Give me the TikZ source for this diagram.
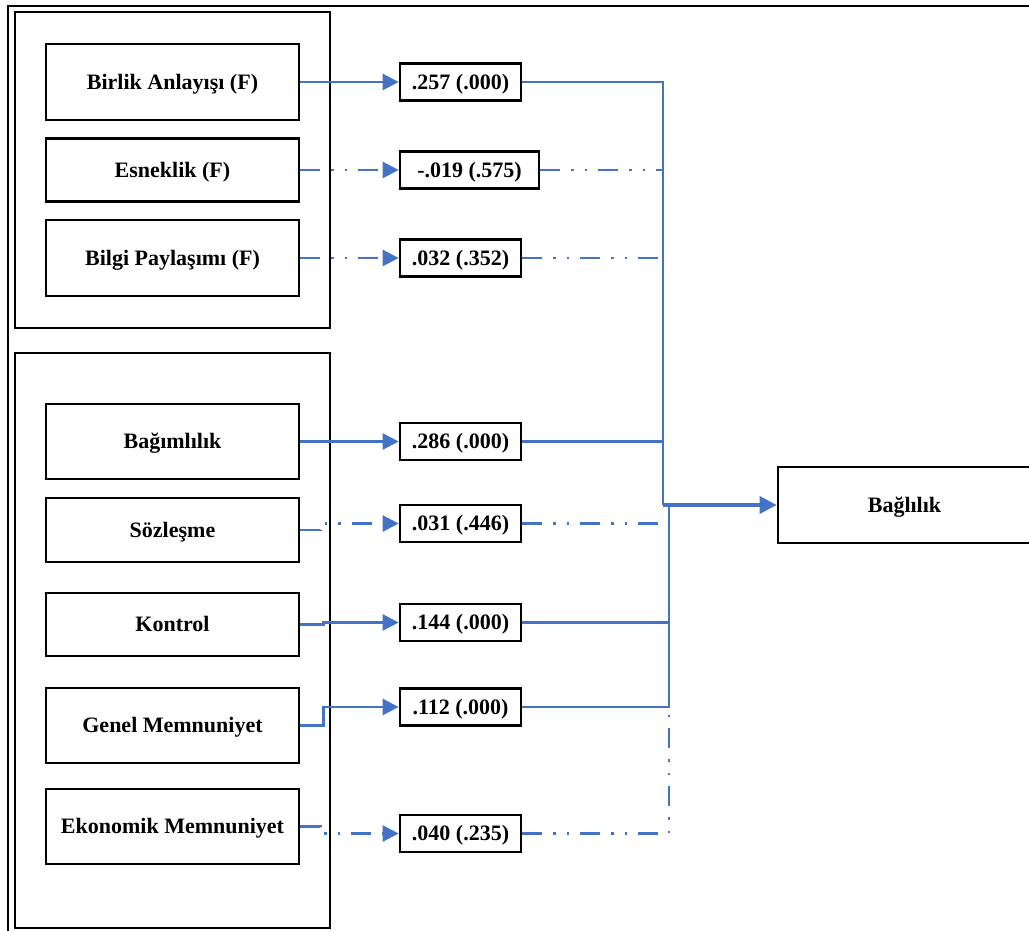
\documentclass[tikz,border=0pt]{standalone}
\usepackage{fontspec}
\setmainfont{Liberation Serif}
\usetikzlibrary{arrows.meta}
\definecolor{lblue}{HTML}{4472C4}
\begin{document}
\begin{tikzpicture}[x=1pt,y=-1pt,
  txt/.style={font=\fontsize{22}{26}\selectfont\bfseries},
  box/.style={txt, draw=black, line width=2.7pt, minimum width=253pt, inner sep=0pt, text depth=1pt},
  vbox/.style={txt, draw=black, line width=2.7pt, minimum height=37pt, inner sep=0pt, text depth=1pt},
  group/.style={draw=black, line width=2.4pt, inner sep=0pt},
  link/.style={draw=lblue, line width=2.6pt},
  ddot/.style={dash pattern=on 20pt off 11pt on 2.5pt off 11pt on 2.5pt off 11pt},
  tip/.style={-{Triangle[length=16pt,width=16pt]}}
]
\useasboundingbox (0,0) rectangle (1029,930);
\clip (0,0) rectangle (1029,930);
\fill[white] (0,0) rectangle (1029,930);

% outer frame (only top and left sides visible)
\draw[line width=2.2pt] (8,940) -- (8,6) -- (1040,6);

% group frames
\node[group, minimum width=315pt, minimum height=316pt] (g1) at (172.5,170) {};
\node[group, minimum width=315pt, minimum height=575pt] (g2) at (172.5,640.5) {};

% source boxes
\node[box, minimum height=76pt] (birlik) at (172.5,82) {Birlik Anlayışı (F)};
\node[box, minimum height=63pt] (esnek) at (172.5,170) {Esneklik (F)};
\node[box, minimum height=76pt] (bilgi) at (172.5,258) {Bilgi Paylaşımı (F)};
\node[box, minimum height=75pt] (bagim) at (172.5,441.5) {Bağımlılık};
\node[box, minimum height=64pt] (sozl) at (172.5,530) {Sözleşme};
\node[box, minimum height=63pt] (kont) at (172.5,624.5) {Kontrol};
\node[box, minimum height=75pt] (genel) at (172.5,725.5) {Genel Memnuniyet};
\node[box, minimum height=75pt] (eko) at (172.5,826.5) {Ekonomik Memnuniyet};

% value boxes
\node[vbox, minimum width=121pt] (v1) at (460.5,82) {.257 (.000)};
\node[vbox, minimum width=139pt] (v2) at (469.5,170) {-.019 (.575)};
\node[vbox, minimum width=121pt] (v3) at (460.5,258) {.032 (.352)};
\node[vbox, minimum width=121pt] (v4) at (460.5,441.5) {.286 (.000)};
\node[vbox, minimum width=121pt] (v5) at (460.5,523.5) {.031 (.446)};
\node[vbox, minimum width=121pt] (v6) at (460.5,622.5) {.144 (.000)};
\node[vbox, minimum width=121pt] (v7) at (460.5,707) {.112 (.000)};
\node[vbox, minimum width=121pt] (v8) at (460.5,833.5) {.040 (.235)};

% target
\node[box, minimum height=76pt] (bagl) at (904.5,505) {Bağlılık};

% bus points
\coordinate (busA) at (663,505);
\coordinate (busB) at (669,505);
\coordinate (ekoEnd) at (669,711);

% left connectors
\draw[link,tip] (birlik.east) -- (v1.west);
\draw[link,ddot,tip] (esnek.east) -- (v2.west);
\draw[link,ddot,tip] (bilgi.east) -- (v3.west);
\draw[link,tip] (bagim.east) -- (v4.west);
\draw[link,ddot,tip] (sozl.east) -- ++(20,0) |- (v5.west);
\draw[link,tip] (kont.east) -- ++(23,0) |- (v6.west);
\draw[link,tip] (genel.east) -- ++(23,0) |- (v7.west);
\draw[link,ddot,tip] (eko.east) -- ++(20,0) |- (v8.west);

% right connectors
\draw[link] (v1.east) -| (busA);
\draw[link,ddot] (v2.east) -- (v2.east -| busA);
\draw[link,ddot] (v3.east) -- (v3.east -| busA);
\draw[link] (v4.east) -- (v4.east -| busA);
\draw[link,ddot] (v5.east) -- (v5.east -| busA);
\draw[link] (v6.east) -| (busB);
\draw[link] (v7.east) -| (busB);
\draw[link,ddot] (v8.east) -| (ekoEnd);

% main arrow
\draw[link, line width=3.4pt, -{Triangle[length=17pt,width=17pt]}] (busA) -- (bagl.west);
\end{tikzpicture}
\end{document}
